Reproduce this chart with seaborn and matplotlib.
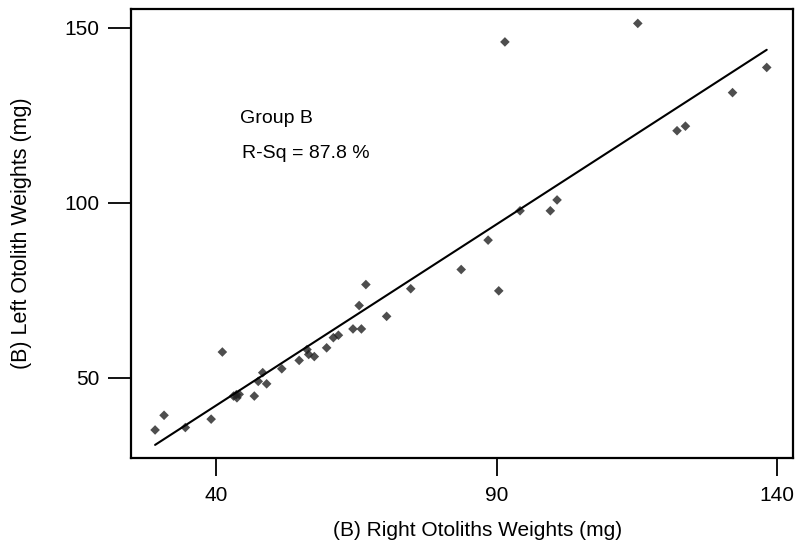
import matplotlib
matplotlib.use("Agg")
import matplotlib.pyplot as plt
import numpy as np
import pandas as pd
import seaborn as sns

# Otolith weights (mg), Group B
right_weights = [29.1, 30.7, 34.5, 39.1, 41.1, 43.1, 43.7, 44.1, 43.6, 46.8,
                 47.5, 48.3, 49.0, 51.7, 54.8, 56.2, 56.5, 57.5, 59.7, 60.9,
                 61.8, 64.4, 65.5, 65.9, 66.7, 70.4, 74.7, 83.7, 88.5, 90.4,
                 91.5, 94.2, 99.6, 100.8, 115.2, 122.2, 123.7, 132.1, 138.2]
left_weights = [35.0, 39.2, 35.7, 38.1, 57.3, 44.7, 44.2, 45.2, 45.1, 44.7,
                48.9, 51.4, 48.2, 52.5, 54.9, 58.0, 56.6, 56.0, 58.5, 61.4,
                62.1, 63.9, 70.6, 63.9, 76.6, 67.5, 75.4, 80.9, 89.3, 74.8,
                146.0, 97.7, 97.7, 100.8, 151.3, 120.6, 121.9, 131.5, 138.7]

x_ticks = [40, 90, 140]
y_ticks = [50, 100, 150]
x_label = "(B) Right Otoliths Weights (mg)"
y_label = "(B) Left Otolith Weights (mg)"
group_label = "Group B"
rsq_label = "R-Sq = 87.8 %"

df = pd.DataFrame({"right": right_weights, "left": left_weights})

sns.set_style("white")
plt.rcParams["font.family"] = ["Liberation Sans", "DejaVu Sans"]
plt.rcParams["text.color"] = "black"
plt.rcParams["axes.labelcolor"] = "black"

fig = plt.figure(figsize=(8.0, 5.48), dpi=100)
ax = fig.add_axes([0.164, 0.1637, 0.827, 0.82])

sns.regplot(data=df, x="right", y="left", ax=ax, ci=None, marker="D",
            scatter_kws={"s": 24, "color": "#222222", "edgecolor": "none"},
            line_kws={"color": "black", "lw": 1.5})

ax.set_xlim(24.84, 142.85)
ax.set_ylim(26.9, 155.44)
ax.set_xticks(x_ticks)
ax.set_yticks(y_ticks)

for side in ["top", "right", "bottom", "left"]:
    ax.spines[side].set_visible(True)
    ax.spines[side].set_color("black")
    ax.spines[side].set_linewidth(1.6)

ax.tick_params(axis="x", bottom=True, direction="out", length=13, width=1.3,
               pad=7, labelsize=15, colors="black")
ax.tick_params(axis="y", left=True, direction="out", length=16.5, width=1.3,
               pad=6.5, labelsize=15, colors="black")

ax.set_xlabel(x_label, fontsize=15, color="black")
ax.set_ylabel(y_label, fontsize=15.5, color="black")
ax.xaxis.set_label_coords(0.523, -0.140)
ax.yaxis.set_label_coords(-0.150, 0.5)

ax.text(44.3, 122.8, group_label, fontsize=14, va="baseline", ha="left",
        color="black")
ax.text(44.6, 112.7, rsq_label, fontsize=14, va="baseline", ha="left",
        color="black")

fig.savefig("out.png", dpi=100)
